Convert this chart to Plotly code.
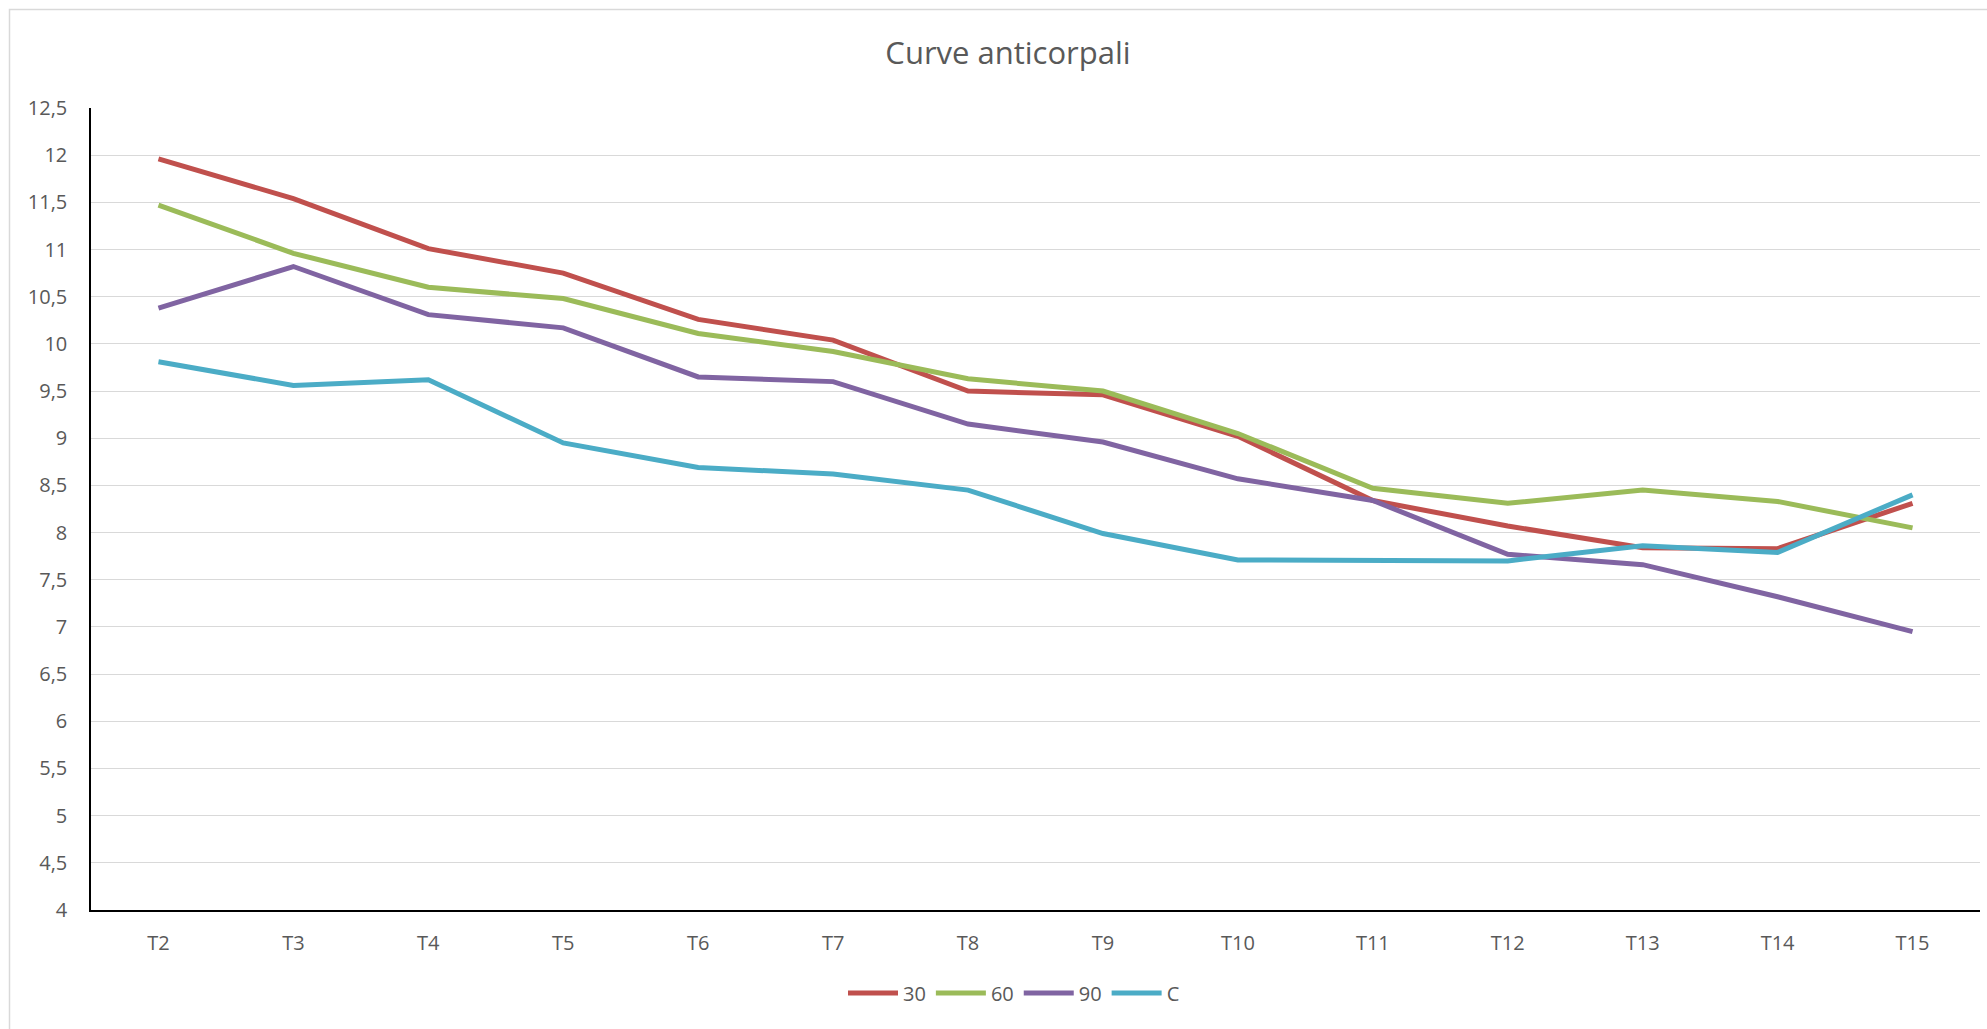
import plotly.graph_objects as go

categories = ["T2", "T3", "T4", "T5", "T6", "T7", "T8", "T9", "T10", "T11", "T12", "T13", "T14", "T15"]
s30 = [11.96, 11.54, 11.01, 10.75, 10.26, 10.04, 9.50, 9.46, 9.02, 8.34, 8.07, 7.84, 7.83, 8.31]
s60 = [11.47, 10.96, 10.60, 10.48, 10.11, 9.92, 9.63, 9.50, 9.05, 8.47, 8.31, 8.45, 8.33, 8.05]
s90 = [10.38, 10.82, 10.31, 10.17, 9.65, 9.60, 9.15, 8.96, 8.57, 8.34, 7.77, 7.66, 7.32, 6.95]
sC = [9.81, 9.56, 9.62, 8.95, 8.69, 8.62, 8.45, 7.99, 7.71, 7.70, 7.70, 7.86, 7.79, 8.40]

series = [("30", s30, "#C0504D"), ("60", s60, "#9BBB59"), ("90", s90, "#8064A2"), ("C", sC, "#4BACC6")]

W, H = 1987, 1029
ML, MR, MT, MB = 91, 7, 108, 119
PW, PH = W - ML - MR, H - MT - MB

def px2x(px):
    return (px - ML) / PW

def py2y(py):
    return (H - MB - py) / PH

FONT = "Open Sans"
GREY = "#595959"

fig = go.Figure()
for name, vals, col in series:
    fig.add_trace(go.Scatter(x=categories, y=vals, name=name, mode="lines",
                             line=dict(color=col, width=5)))

fig.update_layout(
    width=W, height=H,
    margin=dict(l=ML, r=MR, t=MT, b=MB),
    paper_bgcolor="white", plot_bgcolor="white",
    separators=",.",
    font=dict(family=FONT, size=20, color=GREY),
    title=dict(text="Curve anticorpali", font=dict(family=FONT, size=31, color=GREY),
               xref="paper", x=px2x(1008), xanchor="center",
               yref="container", y=1 - 53 / H, yanchor="middle"),
    showlegend=True,
    legend=dict(orientation="h", xref="paper", yref="paper", x=px2x(1014), y=py2y(993),
                xanchor="center", yanchor="middle", font=dict(family=FONT, size=20, color=GREY),
                itemwidth=50, bgcolor="rgba(0,0,0,0)"),
    xaxis=dict(type="category", range=[-0.5, len(categories) - 0.5], showgrid=False,
               showline=True, linecolor="black", linewidth=2, ticks="",
               tickfont=dict(family=FONT, size=20, color=GREY), ticklabelstandoff=14,
               fixedrange=True),
    yaxis=dict(range=[4, 12.5], dtick=0.5, showgrid=True, gridcolor="#D9D9D9", gridwidth=1.3,
               showline=True, linecolor="black", linewidth=1.5, ticks="", zeroline=False,
               tickfont=dict(family=FONT, size=20, color=GREY), ticklabelstandoff=18,
               fixedrange=True),
    shapes=[dict(type="rect", xref="paper", yref="paper",
                 x0=px2x(9.5), x1=px2x(W + 40), y0=py2y(H + 40), y1=py2y(9.5),
                 line=dict(color="#D9D9D9", width=1.5), fillcolor="rgba(0,0,0,0)", layer="below")],
)

fig.write_html("out.html", include_plotlyjs=True, config={"displayModeBar": False},
               post_script="document.body.style.margin='0';document.body.style.overflow='hidden';")
